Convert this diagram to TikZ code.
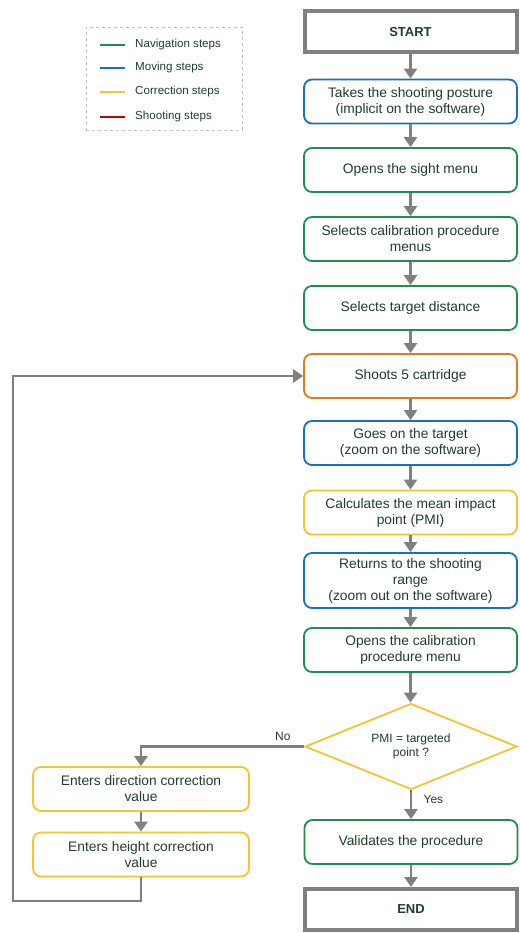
\documentclass[tikz,border=0pt]{standalone}
\usepackage{fontspec}
\setmainfont{Liberation Sans}
\usetikzlibrary{shapes.geometric,arrows.meta}
\definecolor{navg}{HTML}{1E8F4E}
\definecolor{movb}{HTML}{1B6EC2}
\definecolor{cory}{HTML}{F5C433}
\definecolor{shr}{HTML}{C00000}
\definecolor{shoo}{HTML}{E07A1F}
\definecolor{txtc}{HTML}{1F3F2C}
\definecolor{arrg}{HTML}{808080}
\tikzset{
  box/.style={rectangle, rounded corners=8pt, line width=1.8pt, fill=white,
    minimum width=213pt, minimum height=44pt, align=center, text=txtc,
    font=\fontsize{13.8}{16}\selectfont, inner sep=2pt},
  lbox/.style={box, minimum width=216pt},
  term/.style={rectangle, draw=arrg, line width=4pt, fill=white,
    minimum width=212pt, minimum height=41pt, text=txtc,
    font=\fontsize{13}{15}\selectfont\bfseries},
  dec/.style={diamond, draw=cory, line width=1.8pt, fill=white, aspect=2.47,
    minimum width=212pt, minimum height=86pt, inner sep=0pt, align=center,
    text=txtc, font=\fontsize{12}{14}\selectfont},
  arr/.style={draw=arrg, line width=2.6pt, -{Triangle[width=13pt,length=10pt]}},
  lab/.style={text=txtc, font=\fontsize{12}{14}\selectfont},
  legtxt/.style={text=txtc, font=\fontsize{11.6}{13}\selectfont, anchor=west, inner sep=0pt},
  legline/.style={line width=2.4pt}
}
\begin{document}
\begin{tikzpicture}[x=1pt,y=-1pt]
\useasboundingbox (0,0) rectangle (519,933);
% legend
\node[draw=black!25, dashed, line width=0.8pt, minimum width=156pt, minimum height=103pt, inner sep=0pt] (legend) at (164,78.5) {};
\coordinate (l1a) at (100,45); \coordinate (l1b) at (125,45);
\coordinate (l2a) at (100,68); \coordinate (l2b) at (125,68);
\coordinate (l3a) at (100,92); \coordinate (l3b) at (125,92);
\coordinate (l4a) at (100,117); \coordinate (l4b) at (125,117);
\draw[legline, navg] (l1a) -- (l1b);
\draw[legline, movb] (l2a) -- (l2b);
\draw[legline, cory] (l3a) -- (l3b);
\draw[legline, shr] (l4a) -- (l4b);
\node[legtxt] (t1) at (135,45) {Navigation steps};
\node[legtxt] (t2) at (135,68) {Moving steps};
\node[legtxt] (t3) at (135,92) {Correction steps};
\node[legtxt] (t4) at (135,117) {Shooting steps};
% main column
\node[term] (start) at (410.5,32) {START};
\node[box, draw=movb] (posture) at (410.5,101.5) {Takes the shooting posture\\(implicit on the software)};
\node[box, draw=navg] (sight) at (410.5,170) {Opens the sight menu};
\node[box, draw=navg] (calsel) at (410.5,239) {Selects calibration procedure\\menus};
\node[box, draw=navg] (dist) at (410.5,308) {Selects target distance};
\node[box, draw=shoo] (shoot) at (410.5,376) {Shoots 5 cartridge};
\node[box, draw=movb] (goes) at (410.5,443) {Goes on the target\\(zoom on the software)};
\node[box, draw=cory] (pmi) at (410.5,512.5) {Calculates the mean impact\\point (PMI)};
\node[box, draw=movb, minimum height=55pt] (ret) at (410.5,580.5) {Returns to the shooting\\range\\(zoom out on the software)};
\node[box, draw=navg] (calmenu) at (410.5,650) {Opens the calibration\\procedure menu};
\node[dec] (check) at (411,746.5) {PMI = targeted\\point ?};
\node[box, draw=navg] (valid) at (411,842) {Validates the procedure};
\node[term] (end) at (411,909.5) {END};
% left column
\node[lbox, draw=cory] (dir) at (141,789) {Enters direction correction\\value};
\node[lbox, draw=cory] (hgt) at (141,854.5) {Enters height correction\\value};
% connectors
\draw[arr] (start) -- (posture);
\draw[arr] (posture) -- (sight);
\draw[arr] (sight) -- (calsel);
\draw[arr] (calsel) -- (dist);
\draw[arr] (dist) -- (shoot);
\draw[arr] (shoot) -- (goes);
\draw[arr] (goes) -- (pmi);
\draw[arr] (pmi) -- (ret);
\draw[arr] (ret) -- (calmenu);
\draw[arr] (calmenu.south) -- (calmenu.south |- check.north);
\draw[arr] (check.south) -- node[lab, right, pos=0.3, xshift=8pt] {Yes} (valid);
\draw[arr] (check.west) -| node[lab, above, pos=0.065, yshift=1pt] {No} (dir.north);
\draw[arr] (dir) -- (hgt);
\draw[arr] (valid) -- (end);
\coordinate (lp1) at (141,901);
\coordinate (lp2) at (13,901);
\draw[arr] (hgt.south) -- (lp1) -- (lp2) |- (shoot.west);
\end{tikzpicture}
\end{document}
